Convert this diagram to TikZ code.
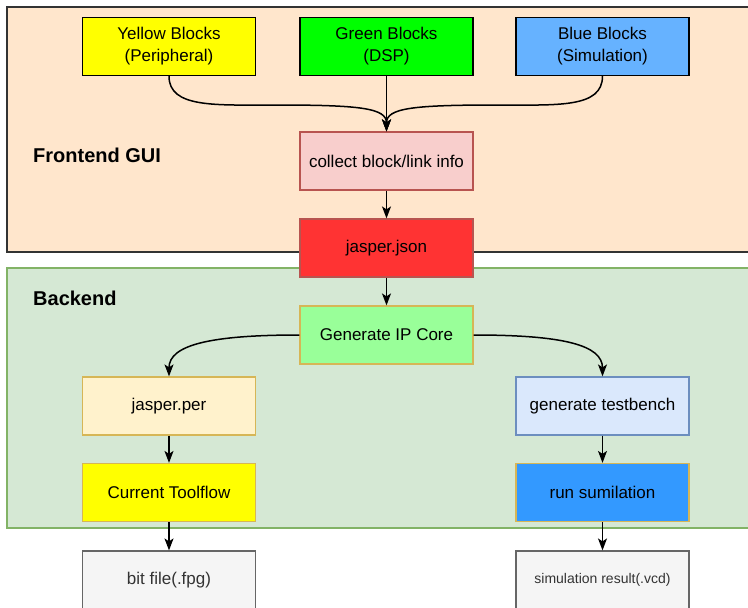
\documentclass[tikz,border=0pt]{standalone}
\usepackage{fontspec}
\setmainfont{Liberation Sans}
\usetikzlibrary{arrows.meta}
\definecolor{feFill}{HTML}{FFE6CC}
\definecolor{beFill}{HTML}{D5E8D4}
\definecolor{beLine}{HTML}{82B366}
\definecolor{ylwFill}{HTML}{FFFF00}
\definecolor{grnFill}{HTML}{00FF00}
\definecolor{bluFill}{HTML}{66B2FF}
\definecolor{pinkFill}{HTML}{F8CECC}
\definecolor{redLine}{HTML}{B85450}
\definecolor{redFill}{HTML}{FF3333}
\definecolor{ipFill}{HTML}{99FF99}
\definecolor{goldLine}{HTML}{D6B656}
\definecolor{creamFill}{HTML}{FFF2CC}
\definecolor{ltBlueFill}{HTML}{DAE8FC}
\definecolor{ltBlueLine}{HTML}{6C8EBF}
\definecolor{runFill}{HTML}{3399FF}
\definecolor{grayFill}{HTML}{F5F5F5}
\definecolor{grayLine}{HTML}{666666}
\definecolor{grayText}{HTML}{333333}
\begin{document}
\begin{tikzpicture}[x=1pt,y=1pt,
  box/.style={draw, line width=1.2pt, minimum width=173pt, minimum height=58pt, inner sep=0pt, align=center, font=\fontsize{17}{22}\selectfont},
  grp/.style={font=\bfseries\fontsize{20}{24}\selectfont, anchor=west, inner sep=0pt},
  conn/.style={line width=1.5pt, -{Stealth[length=12pt,width=9pt,inset=3pt]}}]
\useasboundingbox (0,0) rectangle (748,-608);
\clip (0,0) rectangle (748,-608);
% groups
\draw[fill=feFill, draw=black!80, line width=1.2pt] (7,-7) rectangle (760,-252);
\draw[fill=beFill, draw=beLine, line width=1.2pt] (7,-268) rectangle (760,-528);
\node[grp] (fe) at (33,-155) {Frontend GUI};
\node[grp] (be) at (33,-298) {Backend};
% nodes
\node[box, fill=ylwFill] (yb) at (169,-46.5) {Yellow Blocks\\(Peripheral)};
\node[box, fill=grnFill] (gb) at (386.5,-46.5) {Green Blocks\\(DSP)};
\node[box, fill=bluFill] (bb) at (602.5,-46.5) {Blue Blocks\\(Simulation)};
\node[box, fill=pinkFill, draw=redLine] (cb) at (386.5,-161) {collect block/link info};
\node[box, fill=redFill, draw=redLine] (js) at (386.5,-248) {jasper.json};
\node[box, fill=ipFill, draw=goldLine] (ip) at (386.5,-335) {Generate IP Core};
\node[box, fill=creamFill, draw=goldLine] (jp) at (169,-406) {jasper.per};
\node[box, fill=ltBlueFill, draw=ltBlueLine] (tb) at (602.5,-406) {generate testbench};
\node[box, fill=ylwFill, draw=goldLine] (ct) at (169,-492.5) {Current Toolflow};
\node[box, fill=runFill, draw=goldLine] (rs) at (602.5,-492.5) {run sumilation};
\node[box, fill=grayFill, draw=grayLine, text=grayText] (bf) at (169,-580) {bit file(.fpg)};
\node[box, fill=grayFill, draw=grayLine, text=grayText, font=\fontsize{14}{17}\selectfont] (sr) at (602.5,-580) {simulation result(.vcd)};
% connectors
\coordinate (lm) at (275,-105);
\coordinate (rm) at (498,-105);
\draw[conn] (yb.south) .. controls +(0,-32) and (215,-105) .. (lm) .. controls (360,-105) and (386.5,-108) .. (cb.north);
\draw[conn] (bb.south) .. controls +(0,-32) and (558,-105) .. (rm) .. controls (413,-105) and (386.5,-108) .. (cb.north);
\draw[conn] (gb.south) -- (cb.north);
\draw[conn] (cb.south) -- (js.north);
\draw[conn] (js.south) -- (ip.north);
\draw[conn] (ip.west) .. controls (210,-335) and (169,-345) .. (jp.north);
\draw[conn] (ip.east) .. controls (563,-335) and (602.5,-345) .. (tb.north);
\draw[conn] (jp.south) -- (ct.north);
\draw[conn] (tb.south) -- (rs.north);
\draw[conn] (ct.south) -- (bf.north);
\draw[conn] (rs.south) -- (sr.north);
\end{tikzpicture}
\end{document}
